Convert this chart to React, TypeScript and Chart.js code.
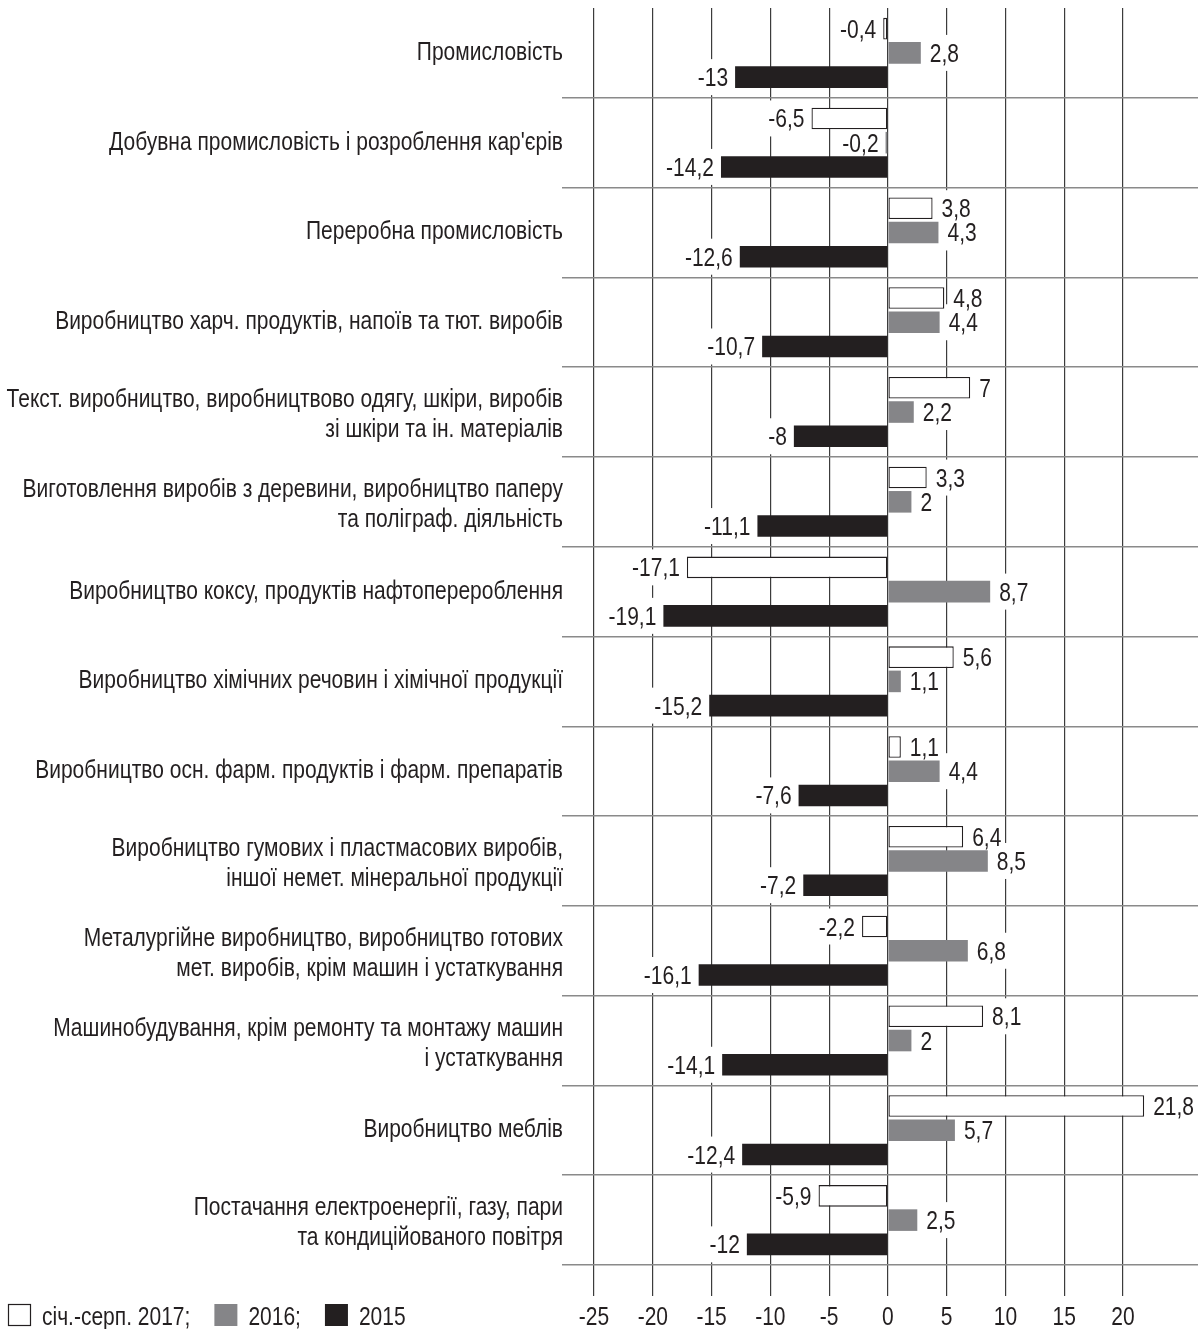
import React, { useEffect, useRef } from 'react';
import { Chart, registerables } from 'chart.js';

Chart.register(...registerables);

const categories: (string | string[])[] = [
  'Промисловість',
  "Добувна промисловість і розроблення кар'єрів",
  'Переробна промисловість',
  'Виробництво харч. продуктів, напоїв та тют. виробів',
  ['Текст. виробництво, виробництвово одягу, шкіри, виробів', 'зі шкіри та ін. матеріалів'],
  ['Виготовлення виробів з деревини, виробництво паперу', 'та поліграф. діяльність'],
  'Виробництво коксу, продуктів нафтоперероблення',
  'Виробництво хімічних речовин і хімічної продукції',
  'Виробництво осн. фарм. продуктів і фарм. препаратів',
  ['Виробництво гумових і пластмасових виробів,', 'іншої немет. мінеральної продукції'],
  ['Металургійне виробництво, виробництво готових', 'мет. виробів, крім машин і устаткування'],
  ['Машинобудування, крім ремонту та монтажу машин', 'і устаткування'],
  'Виробництво меблів',
  ['Постачання електроенергії, газу, пари', 'та кондиційованого повітря'],
];

const series2017 = [-0.4, -6.5, 3.8, 4.8, 7, 3.3, -17.1, 5.6, 1.1, 6.4, -2.2, 8.1, 21.8, -5.9];
const series2016 = [2.8, -0.2, 4.3, 4.4, 2.2, 2, 8.7, 1.1, 4.4, 8.5, 6.8, 2, 5.7, 2.5];
const series2015 = [-13, -14.2, -12.6, -10.7, -8, -11.1, -19.1, -15.2, -7.6, -7.2, -16.1, -14.1, -12.4, -12];

const seriesNames = ['січ.-серп. 2017;', '2016;', '2015'];
const xTicks = [-25, -20, -15, -10, -5, 0, 5, 10, 15, 20];

const FONT_FAMILY = "'Liberation Sans', Arial, sans-serif";
const FONT = `25px ${FONT_FAMILY}`;
const SX = 0.84; // horizontal condensing to mimic a condensed face
const TEXT = '#231f20';
const GRAY = '#858588';

const fmt = (v: number) => String(v).replace('.', ',');

function textW(ctx: CanvasRenderingContext2D, t: string) {
  return ctx.measureText(t).width * SX;
}

function drawNarrow(ctx: CanvasRenderingContext2D, t: string, x: number, y: number, align: CanvasTextAlign) {
  ctx.save();
  ctx.translate(x, y);
  ctx.scale(SX, 1);
  ctx.textAlign = align;
  ctx.fillText(t, 0, 0);
  ctx.restore();
}

function labelPos(ctx: CanvasRenderingContext2D, bar: any, v: number) {
  const txt = fmt(v);
  const w = textW(ctx, txt);
  const lx = v >= 0 ? bar.x + 9 : bar.x - 7 - w;
  return { txt, w, lx, y: bar.y };
}

const valueLabels = {
  id: 'valueLabels',
  beforeDatasetsDraw(chart: any) {
    const ctx: CanvasRenderingContext2D = chart.ctx;
    ctx.save();
    ctx.font = FONT;
    chart.data.datasets.forEach((ds: any, di: number) => {
      const meta = chart.getDatasetMeta(di);
      meta.data.forEach((bar: any, i: number) => {
        const p = labelPos(ctx, bar, ds.data[i]);
        ctx.fillStyle = '#ffffff';
        ctx.fillRect(p.lx - 3, p.y - 18, p.w + 6, 36);
      });
    });
    ctx.restore();
  },
  afterDatasetsDraw(chart: any) {
    const ctx: CanvasRenderingContext2D = chart.ctx;
    ctx.save();
    ctx.font = FONT;
    ctx.fillStyle = TEXT;
    ctx.textBaseline = 'alphabetic';
    chart.data.datasets.forEach((ds: any, di: number) => {
      const meta = chart.getDatasetMeta(di);
      meta.data.forEach((bar: any, i: number) => {
        const p = labelPos(ctx, bar, ds.data[i]);
        drawNarrow(ctx, p.txt, p.lx, p.y + 9, 'left');
      });
    });
    ctx.restore();
  },
};

const axisText = {
  id: 'axisText',
  afterDraw(chart: any) {
    const ctx: CanvasRenderingContext2D = chart.ctx;
    const xs = chart.scales.x;
    const ys = chart.scales.y;
    ctx.save();
    ctx.font = FONT;
    ctx.fillStyle = TEXT;
    ctx.textBaseline = 'alphabetic';
    // category labels
    const labelRight = chart.chartArea.left - 2;
    categories.forEach((c, i) => {
      const lines = Array.isArray(c) ? c : [c];
      const cy = ys.getPixelForTick(i);
      const base = lines.length > 1 ? 10 : 7;
      lines.forEach((ln, k) => {
        const y = cy + base + (k - (lines.length - 1) / 2) * 30;
        drawNarrow(ctx, ln, labelRight, y, 'right');
      });
    });
    // x tick labels
    xTicks.forEach((v) => {
      const x = xs.getPixelForValue(v);
      drawNarrow(ctx, String(v), x, 1325, 'center');
    });
    // legend
    const cy = 1315;
    let x = 8;
    chart.data.datasets.forEach((ds: any) => {
      ctx.fillStyle = ds.backgroundColor;
      ctx.fillRect(x, cy - 11, 23, 22);
      if (ds.borderWidth) {
        ctx.strokeStyle = ds.borderColor;
        ctx.lineWidth = 1.2;
        ctx.strokeRect(x + 0.5, cy - 10.5, 22, 21);
      }
      x += 23 + 11;
      ctx.fillStyle = TEXT;
      drawNarrow(ctx, ds.label, x, 1325, 'left');
      x += textW(ctx, ds.label) + 24;
    });
    ctx.restore();
  },
};

export default function App() {
  const canvasRef = useRef<HTMLCanvasElement | null>(null);

  useEffect(() => {
    document.body.style.margin = '0';
    const canvas = canvasRef.current;
    if (!canvas) return;
    Chart.defaults.font.family = FONT_FAMILY;
    Chart.defaults.color = TEXT;
    const chart = new Chart(canvas, {
      type: 'bar',
      data: {
        labels: categories,
        datasets: [
          {
            label: seriesNames[0],
            data: series2017,
            backgroundColor: '#ffffff',
            borderColor: TEXT,
            borderWidth: 1.3,
            borderSkipped: false,
          },
          {
            label: seriesNames[1],
            data: series2016,
            backgroundColor: GRAY,
            borderWidth: 0,
          },
          {
            label: seriesNames[2],
            data: series2015,
            backgroundColor: TEXT,
            borderWidth: 0,
          },
        ],
      },
      options: {
        indexAxis: 'y',
        responsive: false,
        animation: false,
        maintainAspectRatio: false,
        layout: { padding: { top: 8, right: 4, left: 0, bottom: 0 } },
        categoryPercentage: 0.81,
        barPercentage: 0.89,
        plugins: {
          legend: { display: false },
          tooltip: { enabled: false },
        },
        scales: {
          x: {
            type: 'linear',
            min: -27.47,
            max: 26.38,
            afterBuildTicks: (scale: any) => {
              scale.ticks = xTicks.map((v) => ({ value: v }));
            },
            afterFit: (scale: any) => {
              scale.height = 64;
              scale.paddingLeft = 0;
              scale.paddingRight = 0;
            },
            border: { display: false },
            grid: {
              color: '#3c3c3c',
              lineWidth: 1.2,
              tickLength: 31,
              drawTicks: true,
            },
            ticks: { display: false },
          },
          y: {
            type: 'category',
            afterFit: (scale: any) => {
              scale.width = 565;
              scale.paddingTop = 0;
              scale.paddingBottom = 0;
            },
            border: { display: false },
            grid: {
              offset: true,
              color: (c: any) => (c.index === 0 ? 'rgba(0,0,0,0)' : '#8a8a8a'),
              lineWidth: 1.5,
              tickLength: 3,
              drawTicks: true,
            },
            ticks: { display: false, autoSkip: false },
          },
        },
      },
      plugins: [valueLabels, axisText],
    } as any);
    return () => {
      chart.destroy();
    };
  }, []);

  return (
    <div style={{ width: 1202, height: 1329, position: 'relative' }}>
      <canvas ref={canvasRef} width={1202} height={1329} style={{ display: 'block' }} />
    </div>
  );
}
